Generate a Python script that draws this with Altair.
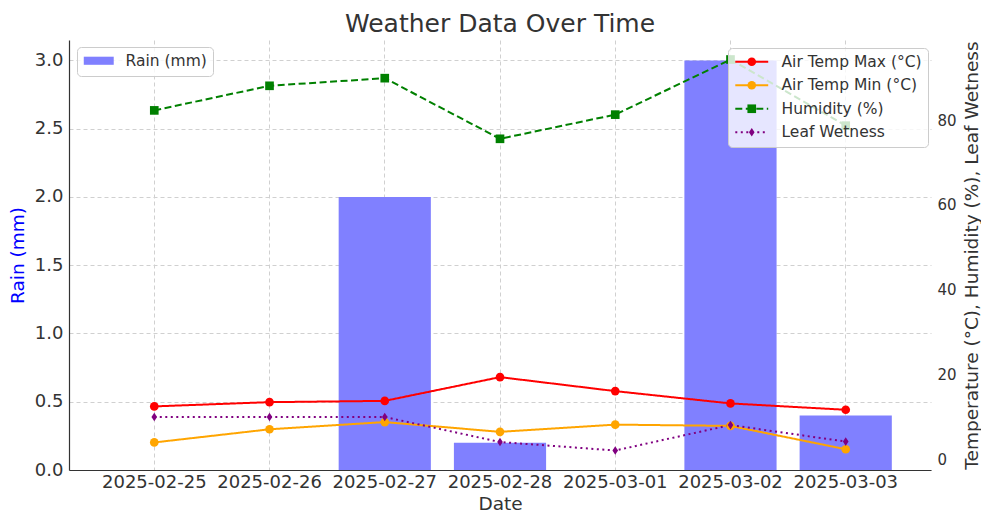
import altair as alt
import pandas as pd

dates = ["2025-02-25", "2025-02-26", "2025-02-27", "2025-02-28",
         "2025-03-01", "2025-03-02", "2025-03-03"]
rain = [0.0, 0.0, 2.0, 0.2, 0.0, 3.0, 0.4]
temp_max = [12.5, 13.5, 13.8, 19.4, 16.1, 13.2, 11.7]
temp_min = [4.0, 7.1, 8.8, 6.5, 8.2, 7.9, 2.4]
humidity = [82.3, 88.1, 89.9, 75.6, 81.3, 94.3, 78.7]
leaf_wetness = [10.0, 10.0, 10.0, 4.1, 2.1, 8.1, 4.2]

series_names = ["Air Temp Max (°C)", "Air Temp Min (°C)", "Humidity (%)", "Leaf Wetness"]
series_values = [temp_max, temp_min, humidity, leaf_wetness]
series_colors = ["#ff0000", "#ffa500", "#008000", "#800080"]
thin_diamond = "M0,-1L0.65,0L0,1L-0.65,0Z"
series_shapes = ["circle", "circle", "square", thin_diamond]
series_dashes = [[1, 0], [1, 0], [7, 3.5], [2, 3.5]]
marker_names = [n + " " for n in series_names]

rain_df = pd.DataFrame({"date": dates, "rain": rain, "label": "Rain (mm)"})
rows = []
for name, mname, vals in zip(series_names, marker_names, series_values):
    for d, v in zip(dates, vals):
        rows.append({"date": d, "series": name, "marker": mname, "value": v})
lines_df = pd.DataFrame(rows)

FONT = "DejaVu Sans"
TXT = "#333333"
GRID = "#d0d0d0"

x_enc = alt.X(
    "date:O",
    title="Date",
    scale=alt.Scale(paddingInner=0.2, paddingOuter=0.34),
    axis=alt.Axis(labelAngle=0, grid=True, gridDash=[4, 3], gridColor=GRID,
                  bandPosition=0.5, tickSize=0, labelPadding=3, titlePadding=3,
                  labelFontSize=18, domainColor=TXT, domainWidth=1.2),
)

bars = alt.Chart(rain_df).mark_bar().encode(
    x=x_enc,
    y=alt.Y("rain:Q", title="Rain (mm)",
            scale=alt.Scale(domain=[0, 3.15], nice=False, zero=True),
            axis=alt.Axis(values=[0, 0.5, 1.0, 1.5, 2.0, 2.5, 3.0], format=".1f",
                          grid=True, gridDash=[4, 3], gridColor=GRID,
                          tickSize=0, labelPadding=6, labelFontSize=18,
                          titleColor="#0000ff", titlePadding=7,
                          domainColor=TXT, domainWidth=1.2)),
    color=alt.Color("label:N", scale=alt.Scale(range=["#8080ff"]),
                    legend=alt.Legend(title=None, orient="none", legendX=8, legendY=7,
                                      symbolType="M-3.33,-0.9H3.33V0.9H-3.33Z",
                                      symbolSize=81, symbolOffset=8,
                                      symbolStrokeWidth=0, labelFontSize=15.5,
                                      labelOffset=19, labelColor=TXT,
                                      fillColor="rgba(255,255,255,0.8)",
                                      strokeColor="#cccccc", cornerRadius=4, padding=6)),
)

common_legend = dict(title=None, orient="none", legendX=659, legendY=8,
                     symbolSize=75, symbolOffset=10, labelFontSize=15.5,
                     rowPadding=6.5, labelOffset=22, padding=6)

line_legend = alt.Legend(symbolType="M-3.8,0H3.8", symbolStrokeWidth=2,
                         labelColor=TXT, fillColor="rgba(255,255,255,0.8)",
                         strokeColor="#cccccc", cornerRadius=4, **common_legend)

marker_legend = alt.Legend(symbolStrokeWidth=0, labelOpacity=0, **common_legend)

y_right = alt.Y("value:Q", title="Temperature (°C), Humidity (%), Leaf Wetness",
                scale=alt.Scale(domain=[-2.5, 98.9], nice=False, zero=False),
                axis=alt.Axis(orient="right", values=[0, 20, 40, 60, 80], grid=False,
                              domain=False, tickSize=0, labelPadding=6, labelFontSize=15,
                              titlePadding=6, titleAngle=270, titleBaseline="top"))

lines = alt.Chart(lines_df).mark_line(strokeWidth=2).encode(
    x=x_enc,
    y=y_right,
    color=alt.Color("series:N",
                    scale=alt.Scale(domain=series_names, range=series_colors),
                    legend=line_legend),
    strokeDash=alt.StrokeDash("series:N",
                              scale=alt.Scale(domain=series_names, range=series_dashes),
                              legend=line_legend),
)

points = alt.Chart(lines_df).mark_point(filled=True, size=75, opacity=1).encode(
    x=x_enc,
    y=y_right,
    color=alt.Color("marker:N",
                    scale=alt.Scale(domain=marker_names, range=series_colors),
                    legend=marker_legend),
    shape=alt.Shape("marker:N",
                    scale=alt.Scale(domain=marker_names, range=series_shapes),
                    legend=marker_legend),
)

right_layer = alt.layer(lines, points).resolve_scale(
    color="independent", shape="independent", strokeDash="independent"
)

chart = alt.layer(bars, right_layer).resolve_scale(
    y="independent", color="independent"
).properties(
    width=862,
    height=430,
    title=alt.Title("Weather Data Over Time", fontSize=25, fontWeight="normal",
                    color=TXT, font=FONT, offset=3),
    padding={"left": 0, "top": 4, "right": 0, "bottom": 0},
).configure(
    font=FONT,
).configure_view(
    stroke=None,
).configure_axis(
    labelFont=FONT, titleFont=FONT, titleFontSize=18.5,
    labelColor=TXT, titleColor=TXT, titleFontWeight="normal",
)

chart.save("out.html", embed_options={"renderer": "svg", "actions": False})
